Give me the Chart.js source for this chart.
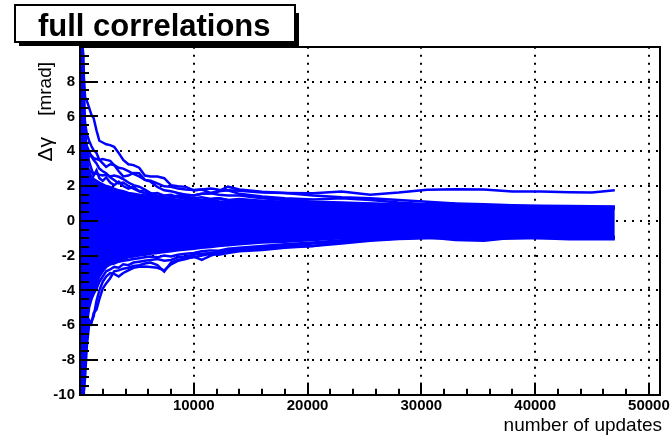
<!DOCTYPE html>
<html><head><meta charset="utf-8">
<script src="https://cdn.jsdelivr.net/npm/chart.js@4.4.1/dist/chart.umd.min.js"></script>
<style>html,body{margin:0;padding:0;background:#fff;overflow:hidden}#c{display:block}</style>
</head><body>
<canvas id="c" width="672" height="438"></canvas>
<script>
// ---- data ----
const updates = [30,150,300,450,600,800,1000,1200,1450,1700,
  2000,2300,2650,3000,3400,3800,4250,4700,5200,5700,
  6200,6800,7400,8000,8600,9300,10000,10700,11500,12200,
  13000,14000,16000,18000,20500,23000,25500,28000,30500,33000,
  35500,38000,40500,43000,45000,47000];

// dense core of the many traces (fully blue region)
const coreTop = [10.5,10.5,9.5,5.0,3.6,2.8,2.55,2.4,2.3,2.2,
  2.1,2.0,1.95,1.85,1.75,1.7,1.6,1.55,1.5,1.45,
  1.4,1.35,1.3,1.25,1.2,1.15,1.12,1.1,1.08,1.05,
  1.02,1.0,0.95,0.95,0.9,0.9,0.88,0.86,0.85,0.83,
  0.8,0.78,0.77,0.76,0.75,0.75];
const coreBottom = [-10.5,-10.5,-10.5,-8.0,-6.0,-5.0,-4.5,-4.0,-3.6,-3.2,
  -2.9,-2.65,-2.5,-2.4,-2.3,-2.2,-2.1,-2.05,-2.0,-1.95,
  -1.9,-1.85,-1.8,-1.75,-1.7,-1.65,-1.6,-1.55,-1.5,-1.45,
  -1.4,-1.35,-1.25,-1.2,-1.1,-1.0,-0.95,-0.9,-0.85,-0.88,
  -0.9,-0.86,-0.88,-0.9,-0.9,-0.92];

// individual traces visible outside the core
const traceA = [12,10,8.5,7.1,6.9,6.5,6.1,5.9,5.2,4.6,
  4.5,4.4,4.35,4.25,3.9,3.5,3.25,3.2,3.05,2.6,
  2.55,2.55,2.45,2.05,1.98,1.95,1.75,1.8,1.85,1.78,
  1.75,1.72,1.62,1.6,1.58,1.68,1.5,1.62,1.78,1.82,
  1.8,1.68,1.68,1.64,1.62,1.75];
const traceB = [10,8,6.5,5.6,5.0,4.6,4.3,4.05,3.9,3.5,
  3.3,3.1,3.25,3.2,2.85,2.55,2.6,2.75,2.74,2.35,
  2.3,2.15,1.98,1.95,1.85,1.8,1.77,1.8,1.6,1.7,
  1.75,1.55,1.4,1.3,1.22,1.3,1.2,1.05,0.95,0.98,
  0.9,0.85,0.82,0.8,0.78,0.8];
const traceC = [8,6.5,5.3,4.6,4.3,4.0,3.7,3.5,3.3,3.0,
  2.85,2.73,2.5,2.35,2.15,2.2,2.0,1.85,1.7,1.58,
  1.5,1.25,1.3,1.35,1.4,1.3,1.25,1.2,1.25,1.3,
  1.2,1.15,1.1,1.05,0.95,0.9,0.85,0.8,0.75,0.7,
  0.72,0.7,0.68,0.7,0.66,0.7];
const traceD = [6.5,5.2,4.4,4.0,3.8,3.7,3.75,3.6,3.55,3.5,
  3.55,3.5,3.45,3.2,3.05,3.0,2.85,2.7,2.55,2.35,
  2.25,1.95,1.75,1.7,1.6,1.5,1.45,1.55,1.58,1.5,
  1.45,1.45,1.3,1.2,1.1,1.05,1.0,0.95,0.9,0.88,
  0.85,0.8,0.78,0.75,0.72,0.7];
const traceE = [5.5,4.4,3.7,3.3,3.1,2.9,2.8,2.75,2.7,2.65,
  2.6,2.65,2.55,2.6,2.53,2.4,2.2,2.05,1.96,1.8,
  1.6,1.45,1.35,1.3,1.35,1.25,1.2,1.18,1.15,1.12,
  1.1,1.05,1.0,0.98,0.95,0.92,0.9,0.88,0.86,0.85,
  0.83,0.82,0.8,0.8,0.78,0.78];
const traceF = [4.5,3.6,3.0,2.6,2.4,2.3,2.1,2.0,2.05,1.85,
  1.8,1.75,1.7,1.6,1.65,1.5,1.45,1.4,1.35,1.3,
  1.35,1.4,1.3,1.35,1.45,1.5,1.45,1.55,1.58,1.7,
  1.96,1.8,1.67,1.6,1.45,1.35,1.3,1.2,1.1,1.0,
  0.95,0.9,0.86,0.85,0.83,0.82];
const traceG = [9,7,5.8,5.0,4.2,3.4,3.0,2.6,2.9,2.45,
  2.3,2.5,2.2,2.05,2.25,2.0,1.85,1.95,1.7,1.75,
  1.55,1.6,1.45,1.5,1.35,1.4,1.3,1.35,1.25,1.3,
  1.2,1.25,1.15,1.1,1.05,1.0,0.98,0.92,0.9,0.86,
  0.84,0.82,0.8,0.8,0.78,0.78];
const traceL1 = [-12,-11,-10,-9.0,-7.2,-6.0,-5.8,-5.5,-4.6,-4.0,
  -3.5,-3.2,-3.0,-3.05,-3.2,-3.0,-2.85,-2.7,-2.64,-2.62,
  -2.65,-2.7,-2.85,-2.5,-2.3,-2.2,-2.06,-2.25,-2.0,-1.87,
  -1.8,-1.68,-1.6,-1.5,-1.45,-1.2,-1.1,-1.02,-0.95,-1.1,
  -1.14,-0.98,-1.0,-1.06,-1.04,-1.06];
const traceL2 = [-11,-10,-8.5,-7.5,-6.2,-5.7,-5.9,-5.3,-5.1,-4.5,
  -3.9,-3.6,-3.3,-2.9,-2.85,-2.75,-2.7,-2.6,-2.55,-2.45,
  -2.4,-2.55,-2.92,-2.4,-2.25,-2.15,-2.1,-2.0,-1.9,-1.95,
  -1.85,-1.75,-1.68,-1.55,-1.45,-1.3,-1.15,-1.05,-1.0,-1.0,
  -1.05,-1.02,-0.98,-1.0,-0.98,-1.0];
const traceL3 = [-9,-8,-7,-6,-5.3,-4.8,-4.5,-4.2,-3.9,-3.5,
  -3.2,-2.9,-2.8,-2.65,-2.7,-2.5,-2.55,-2.4,-2.35,-2.3,
  -2.25,-2.2,-2.3,-2.25,-2.1,-2.05,-1.95,-1.9,-1.85,-1.8,
  -1.7,-1.6,-1.5,-1.45,-1.3,-1.15,-1.1,-0.98,-0.92,-0.95,
  -0.98,-0.93,-0.95,-0.96,-0.95,-0.97];
const traceL4 = [-7.5,-6,-5,-4.5,-4.2,-3.9,-3.6,-3.4,-3.1,-2.95,
  -2.8,-2.6,-2.5,-2.45,-2.35,-2.3,-2.25,-2.2,-2.15,-2.1,
  -2.05,-2.1,-2.0,-2.05,-1.95,-1.9,-1.85,-1.75,-1.7,-1.72,
  -1.6,-1.55,-1.45,-1.35,-1.25,-1.12,-1.05,-0.95,-0.9,-0.9,
  -0.93,-0.9,-0.92,-0.93,-0.92,-0.95];

const yTickValues = [-10,-8,-6,-4,-2,0,2,4,6,8];
const xTickValues = [10000,20000,30000,40000,50000];

const titleText = 'full correlations';
const xTitle = 'number of updates';
const yTitleUnit = '[mrad]';
const yTitleSym = 'Δγ';

// ---- chart ----
const BLUE = '#0000ff';
const FONT = '"Liberation Sans", Arial, Helvetica, sans-serif';
const pts = arr => arr.map((v, i) => ({x: updates[i], y: v}));
const traces = [traceA, traceB, traceC, traceD, traceE, traceF, traceG, traceL1, traceL2, traceL3, traceL4];

const datasets = [
  {data: pts(coreTop), borderColor: BLUE, backgroundColor: BLUE, borderWidth: 2.5, fill: '+1', pointRadius: 0, tension: 0},
  {data: pts(coreBottom), borderColor: BLUE, backgroundColor: BLUE, borderWidth: 2.5, fill: false, pointRadius: 0, tension: 0},
  ...traces.map(t => ({data: pts(t), borderColor: BLUE, borderWidth: 2.5, fill: false, pointRadius: 0, tension: 0}))
];

const rootDecor = {
  id: 'rootDecor',
  afterDatasetsDraw(chart) {
    const {ctx, chartArea: a, scales: {x, y}} = chart;
    ctx.save();
    ctx.strokeStyle = '#000';
    ctx.lineWidth = 2;
    ctx.beginPath();
    for (let v = -10; v <= 10.001; v += 0.5) {
      const py = Math.round(y.getPixelForValue(v));
      const len = (Math.abs(v % 2) < 1e-6) ? 18 : 9;
      ctx.moveTo(a.left, py); ctx.lineTo(a.left + len, py);
    }
    for (let v = 0; v <= 50000; v += 2000) {
      const px = Math.round(x.getPixelForValue(v));
      const len = (v % 10000 === 0) ? 12 : 6;
      ctx.moveTo(px, a.bottom); ctx.lineTo(px, a.bottom - len);
    }
    ctx.stroke();
    ctx.strokeRect(Math.round(a.left), Math.round(a.top), Math.round(a.right - a.left), Math.round(a.bottom - a.top));
    ctx.restore();
  },
  afterDraw(chart) {
    const {ctx} = chart;
    ctx.save();
    ctx.fillStyle = '#000';
    ctx.fillRect(19, 13, 280, 33);
    ctx.fillStyle = '#fff';
    ctx.fillRect(15, 5, 280, 37);
    ctx.strokeStyle = '#000';
    ctx.lineWidth = 2;
    ctx.strokeRect(15, 5, 280, 37);
    ctx.fillStyle = '#000';
    ctx.font = 'bold 31px ' + FONT;
    ctx.textAlign = 'left';
    ctx.textBaseline = 'alphabetic';
    ctx.fillText(titleText, 38, 36);
    ctx.font = '19px ' + FONT;
    ctx.textAlign = 'right';
    ctx.fillText(xTitle, 662, 431);
    ctx.translate(46, 62);
    ctx.rotate(-Math.PI / 2);
    ctx.textAlign = 'right';
    ctx.textBaseline = 'middle';
    ctx.fillText(yTitleUnit, 0, 0);
    ctx.font = '21px ' + FONT;
    ctx.fillText(yTitleSym, -75, 0);
    ctx.restore();
  }
};

Chart.defaults.font.family = FONT;
new Chart(document.getElementById('c'), {
  type: 'line',
  data: {datasets},
  options: {
    responsive: false,
    devicePixelRatio: 1,
    animation: false,
    events: [],
    layout: {padding: {left: 0, right: 11, top: 46.8, bottom: 0}},
    plugins: {legend: {display: false}, tooltip: {enabled: false}, title: {display: false}},
    scales: {
      x: {
        type: 'linear', min: 0, max: 51000,
        afterFit: s => { s.height = 43.2; },
        afterBuildTicks: s => { s.ticks = xTickValues.map(v => ({value: v})); },
        ticks: {
          autoSkip: false, maxRotation: 0, minRotation: 0, padding: 2,
          color: '#000', font: {size: 15, weight: 'bold'},
          callback: v => String(v)
        },
        grid: {drawTicks: false, lineWidth: 2, color: '#000'},
        border: {display: false, dash: [2, 6]}
      },
      y: {
        type: 'linear', min: -10, max: 10,
        afterFit: s => { s.width = 80; },
        afterBuildTicks: s => { s.ticks = yTickValues.map(v => ({value: v})); },
        ticks: {
          autoSkip: false, padding: 5,
          color: '#000', font: {size: 15, weight: 'bold'},
          callback: v => String(v)
        },
        grid: {
          drawTicks: false, lineWidth: 2,
          color: c => (c.tick && c.tick.value > -10) ? '#000' : 'rgba(0,0,0,0)'
        },
        border: {display: false, dash: [2, 6]}
      }
    }
  },
  plugins: [rootDecor]
});
</script>
</body></html>
